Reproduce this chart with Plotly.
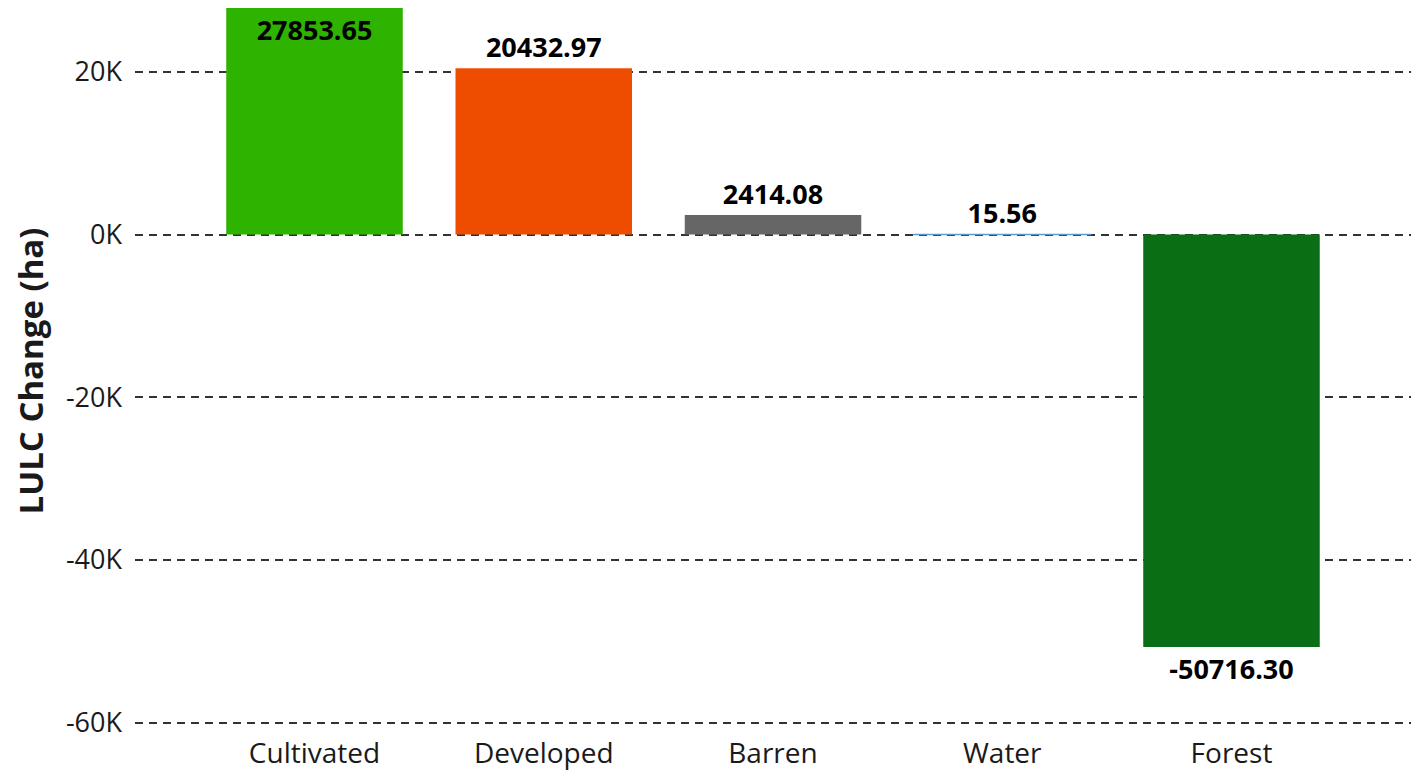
import plotly.graph_objects as go

categories = ["Cultivated", "Developed", "Barren", "Water", "Forest"]
changes = [27853.65, 20432.97, 2414.08, 15.56, -50716.30]
bar_colors = ["#2DB300", "#EE4D00", "#666666", "#5B9BD5", "#0A6E14"]
outline_widths = [0, 0, 0, 1.5, 0]
label_positions = ["inside", "outside", "outside", "outside", "outside"]
y_tick_values = [20000, 0, -20000, -40000, -60000]
y_tick_labels = ["20K", "0K", "-20K", "-40K", "-60K"]

label_font = dict(family="Open Sans", size=27, color="black", weight="bold")

fig = go.Figure()
fig.add_trace(go.Bar(
    x=categories,
    y=changes,
    marker=dict(color=bar_colors, line=dict(color=bar_colors, width=outline_widths)),
    width=0.77,
    text=[f"{v:.2f}" for v in changes],
    textposition=label_positions,
    insidetextanchor="end",
    textangle=0,
    constraintext="none",
    cliponaxis=False,
    textfont=label_font,
    insidetextfont=label_font,
    outsidetextfont=label_font,
))

fig.update_layout(
    width=1403, height=763,
    margin=dict(l=127, r=0, t=0, b=35),
    plot_bgcolor="white", paper_bgcolor="white",
    showlegend=False,
    font=dict(family="Open Sans", color="#1a1a1a"),
)
fig.update_xaxes(
    range=[-0.783, 4.783],
    showgrid=False, showline=False, zeroline=False,
    tickfont=dict(size=28, color="#1a1a1a"),
    ticks="", ticklen=0,
)
fig.update_yaxes(
    range=[-61400, 27853.65],
    tickvals=y_tick_values, ticktext=y_tick_labels,
    showgrid=True, gridcolor="#333333", gridwidth=2, griddash="8px,6px",
    zeroline=False, showline=False,
    tickfont=dict(size=27, color="#1a1a1a"),
    ticklabelstandoff=12,
    title=dict(text="<b>LULC Change (ha)</b>", font=dict(size=33, color="#1a1a1a"), standoff=24),
    automargin=False,
    ticks="", ticklen=0,
)

fig.write_html("out.html")
